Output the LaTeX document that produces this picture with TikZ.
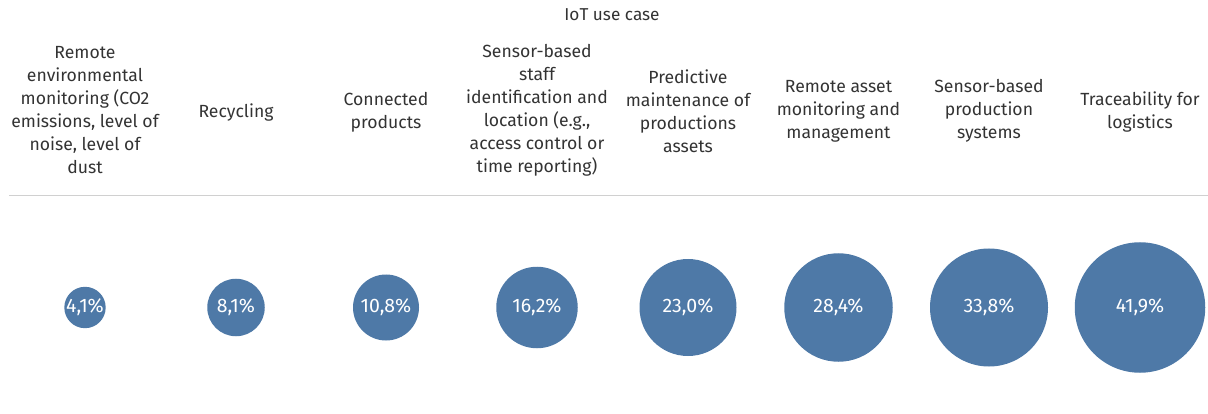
\documentclass[tikz,border=0pt]{standalone}
\usepackage{fontspec}
\setmainfont{Fira Sans}
\definecolor{bubble}{HTML}{4E79A7}
\definecolor{txt}{HTML}{333333}
\definecolor{rule}{HTML}{D0D0D0}
\begin{document}
\begin{tikzpicture}[x=1pt,y=-1pt,
  lab/.style={align=center, text=txt, font=\fontsize{17.6}{23}\selectfont, inner sep=0},
  bub/.style={circle, fill=bubble, inner sep=0, text=white, font=\fontsize{19.5}{22}\selectfont}]
\useasboundingbox (0,0) rectangle (1208,414);
\node[text=txt, font=\fontsize{17.2}{20}\selectfont] (title) at (612,15) {IoT use case};
\draw[rule, line width=1pt] (9,196) -- (1208,196);
\node[lab] (l1) at (85,110) {Remote\\environmental\\monitoring (CO2\\emissions, level of\\noise, level of\\dust};
\node[lab] (l2) at (236,113) {Recycling};
\node[lab] (l3) at (386,112) {Connected\\products};
\node[lab] (l4) at (537,110) {Sensor-based\\staff\\identification and\\location (e.g.,\\access control or\\time reporting)};
\node[lab] (l5) at (688,111) {Predictive\\maintenance of\\productions\\assets};
\node[lab] (l6) at (838.5,111) {Remote asset\\monitoring and\\management};
\node[lab] (l7) at (989,111) {Sensor-based\\production\\systems};
\node[lab] (l8) at (1140,112) {Traceability for\\logistics};
\node[bub, minimum size=41pt] (c1) at (85,307.5) {4,1\%};
\node[bub, minimum size=57.5pt] (c2) at (236,307.5) {8,1\%};
\node[bub, minimum size=66pt] (c3) at (386,307.5) {10,8\%};
\node[bub, minimum size=81.5pt] (c4) at (537,307.5) {16,2\%};
\node[bub, minimum size=97pt] (c5) at (688,307.5) {23,0\%};
\node[bub, minimum size=108.5pt] (c6) at (838.5,307.5) {28,4\%};
\node[bub, minimum size=118pt] (c7) at (989,307.5) {33,8\%};
\node[bub, minimum size=130.5pt] (c8) at (1140,307.5) {41,9\%};
\end{tikzpicture}
\end{document}
